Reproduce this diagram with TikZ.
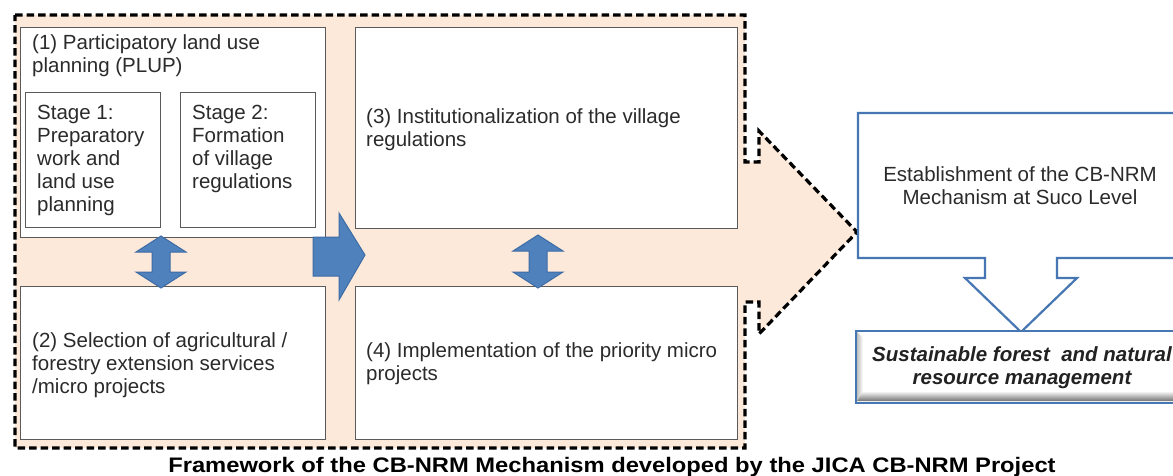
\documentclass[tikz,border=0pt]{standalone}
\usepackage{fontspec}
\setmainfont{Liberation Sans}
\usetikzlibrary{shapes.geometric}
\definecolor{peach}{HTML}{FDE9D9}
\definecolor{boxline}{HTML}{5A5A5A}
\definecolor{arrowblue}{HTML}{4F81BD}
\definecolor{arrowedge}{HTML}{3D6CA5}
\definecolor{calloutblue}{HTML}{4677B3}
\definecolor{txt}{HTML}{2B2B2B}
\tikzset{
  panel/.style={draw=boxline, line width=1.3pt, fill=white, inner sep=0pt, anchor=north west},
  label/.style={inner sep=0pt, anchor=north west, align=left, text=txt,
    font=\fontsize{20.5}{23}\selectfont},
  clabel/.style={inner sep=0pt, anchor=north, align=center, text=txt,
    font=\fontsize{20.5}{23}\selectfont},
  blockarrow/.style={fill=arrowblue, draw=arrowedge, line width=1pt, line join=miter},
  frame/.style={draw=black, line width=3.2pt, dash pattern=on 7.5pt off 4pt, fill=peach},
  callout/.style={draw=calloutblue, line width=2.2pt, fill=white, line join=miter},
  pics/updown/.style args={#1/#2}{code={
    % double-headed vertical block arrow between heights #1 and #2
    \path[blockarrow] (0,#1) -- (25,#1+16) -- (9,#1+16) -- (9,#2-16) -- (25,#2-16)
      -- (0,#2) -- (-25,#2-16) -- (-9,#2-16) -- (-9,#1+16) -- (-25,#1+16) -- cycle;
  }}
}
\begin{document}
\begin{tikzpicture}[x=1pt, y=-1pt]
\useasboundingbox (0,0) rectangle (1173,475);

% dashed outline of the large process arrow
\path[frame] (15,15) -- (745,15) -- (745,162) -- (759,162) -- (759,131)
  -- (857,232) -- (759,334) -- (759,302) -- (745,302) -- (745,448)
  -- (15,448) -- cycle;

% four step panels
\node[panel, minimum width=305pt, minimum height=210pt] (p1) at (20,27) {};
\node[panel, minimum width=135pt, minimum height=135pt] (s1) at (25,92) {};
\node[panel, minimum width=135pt, minimum height=135pt] (s2) at (180,92) {};
\node[panel, minimum width=382pt, minimum height=201pt] (p3) at (355,27) {};
\node[panel, minimum width=305pt, minimum height=153pt] (p2) at (20,286) {};
\node[panel, minimum width=382pt, minimum height=153pt] (p4) at (355,286) {};

\node[label] (t1) at (32,34) {(1) Participatory land use\\planning (PLUP)};
\node[label] (ts1) at (37,105) {Stage 1:\\Preparatory\\work and\\land use\\planning};
\node[label] (ts2) at (192,105) {Stage 2:\\Formation\\of village\\regulations};
\node[label] (t3) at (366,108) {(3) Institutionalization of the village\\regulations};
\node[label] (t2) at (32,332) {(2) Selection of agricultural /\\forestry extension services\\/micro projects};
\node[label] (t4) at (366,342) {(4) Implementation of the priority micro\\projects};

% links between panels
\pic at (161,0) {updown=236/288};
\pic at (538,0) {updown=235/288};
\path[blockarrow] (313,237) -- (339,237) -- (339,213) -- (365,255) -- (339,300)
  -- (339,276) -- (313,276) -- cycle;

% outcome callout with its downward arrow
\path[callout] (858,113) -- (1185,113) -- (1185,258) -- (1057,258) -- (1057,278)
  -- (1077,278) -- (1021,332) -- (965,278) -- (985,278) -- (985,258)
  -- (858,258) -- cycle;
\node[clabel] (est) at (1020,166) {Establishment of the CB-NRM\\Mechanism at Suco Level};

% goal box with bevelled lower edge
\node[draw=calloutblue, line width=2.2pt, fill=white, inner sep=0pt, anchor=north west,
  minimum width=330pt, minimum height=72pt] (goal) at (855,330) {};
\shade[top color=white, bottom color=black!55] (857,391) -- (866,391) -- (1185,391)
  -- (1185,401) -- (857,401) -- cycle;
\shade[left color=black!25, right color=white] (857,332) -- (863,338) -- (863,391)
  -- (857,401) -- cycle;
\node[clabel, font=\fontsize{20.5}{23}\selectfont\bfseries\itshape, text=txt!80!black]
  (goaltext) at (1022,346) {Sustainable forest \ and natural\\resource management};

% caption
\node[inner sep=0pt, anchor=base, xscale=1.13, transform shape,
  font=\fontsize{21}{24}\selectfont\bfseries]
  (title) at (612,472) {Framework of the CB-NRM Mechanism developed by the JICA CB-NRM Project};
\end{tikzpicture}
\end{document}
